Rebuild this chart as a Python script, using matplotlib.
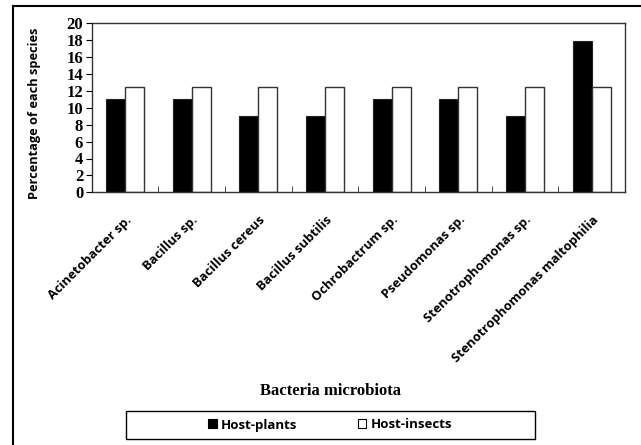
import matplotlib
matplotlib.use("Agg")
import matplotlib.pyplot as plt
from matplotlib.lines import Line2D
from matplotlib.patches import Patch, Rectangle
import numpy as np

categories = ["Acinetobacter sp.", "Bacillus sp.", "Bacillus cereus", "Bacillus subtilis",
              "Ochrobactrum sp.", "Pseudomonas sp.", "Stenotrophomonas sp.",
              "Stenotrophomonas maltophilia"]
host_plants = [11.1, 11.1, 9.0, 9.0, 11.1, 11.1, 9.0, 17.9]
host_insects = [12.5, 12.5, 12.5, 12.5, 12.5, 12.5, 12.5, 12.5]
yticks = list(range(0, 21, 2))

W, H = 641, 445
fig = plt.figure(figsize=(W / 100, H / 100), dpi=100)
ax = fig.add_axes([91.5 / W, 1 - 192.3 / H, (625 - 91.5) / W, (192.3 - 23.3) / H])

x = np.arange(len(categories))
bw = 0.285
ax.bar(x - bw / 2, host_plants, bw, color="black", edgecolor="#222222", linewidth=0.8)
ax.bar(x + bw / 2, host_insects, bw, color="white", edgecolor="#333333", linewidth=1.0)

ax.set_xlim(-0.5, len(categories) - 0.5)
ax.set_ylim(0, 20)
ax.set_yticks(yticks)
ax.set_yticklabels([str(v) for v in yticks], fontfamily="Liberation Serif",
                   fontweight="bold", fontsize=12)
ax.set_xticks(x)
ax.set_xticklabels(categories, rotation=45, ha="right", rotation_mode="anchor",
                   fontfamily="Open Sans", fontweight="bold", fontsize=9.3)
ax.tick_params(axis="x", length=0, pad=15)
ax.set_xticks(np.arange(0.5, len(categories) - 1, 1), minor=True)
ax.tick_params(axis="x", which="minor", direction="in", length=4, color="#333333")
ax.tick_params(axis="y", direction="out", length=4, pad=2)
for s in ax.spines.values():
    s.set_linewidth(1.0)
    s.set_color("#333333")

fig.text(35 / W, 1 - 113 / H, "Percentage of each species", rotation=90,
         ha="center", va="center", fontfamily="Open Sans", fontweight="bold", fontsize=9.2)
fig.text(331 / W, 1 - 391 / H, "Bacteria microbiota", ha="center", va="center",
         fontfamily="Liberation Serif", fontweight="bold", fontsize=12)

handles = [Patch(facecolor="black", edgecolor="black", linewidth=0.8),
           Patch(facecolor="white", edgecolor="black", linewidth=0.8)]
leg = fig.legend(handles, ["Host-plants", "Host-insects"], loc="center",
                 bbox_to_anchor=(330 / W, 1 - 425 / H), ncol=2, frameon=False,
                 handlelength=0.65, handleheight=0.65,
                 handletextpad=0.3, columnspacing=4.6, borderpad=0.0,
                 prop={"family": "Open Sans", "weight": "bold", "size": 9.5})
fig.add_artist(Rectangle((126 / W, 1 - 439 / H), (535 - 126) / W, 28 / H,
                         transform=fig.transFigure, facecolor="none",
                         edgecolor="black", linewidth=1.0))

# outer frame
fig.add_artist(Line2D([12.5 / W, 12.5 / W], [0, 1 - 6 / H], color="black", lw=1.5, transform=fig.transFigure))
fig.add_artist(Line2D([12.5 / W, 1], [1 - 6 / H, 1 - 6 / H], color="black", lw=1.5, transform=fig.transFigure))

fig.savefig("out.png", dpi=100)
